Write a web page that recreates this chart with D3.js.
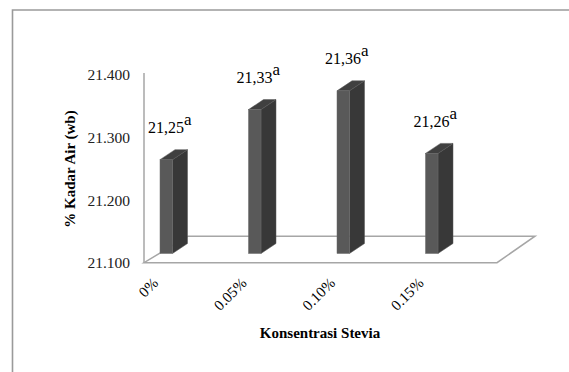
<!DOCTYPE html>
<html>
<head>
<meta charset="utf-8">
<script src="https://cdn.jsdelivr.net/npm/d3@7"></script>
<style>
  html, body { margin: 0; padding: 0; background: #fff; }
  svg { display: block; }
</style>
</head>
<body>
<svg id="chart" width="569" height="372"></svg>
<script>
const categories = ["0%", "0.05%", "0.10%", "0.15%"];
const values = [21.25, 21.33, 21.36, 21.26];
const valueLabels = ["21,25", "21,33", "21,36", "21,26"];
const letters = ["a", "a", "a", "a"];
const yTicks = [21.1, 21.2, 21.3, 21.4];
const yTickLabels = ["21.100", "21.200", "21.300", "21.400"];
const yTitle = "% Kadar Air (wb)";
const xTitle = "Konsentrasi Stevia";

const FONT = "'Liberation Serif', 'Times New Roman', Times, serif";
const svg = d3.select("#chart").attr("font-family", FONT);

// outer frame (extends beyond right/bottom edge)
svg.append("path")
  .attr("d", "M12.5,400 L12.5,10 L600,10")
  .attr("fill", "none").attr("stroke", "#9a9a9a").attr("stroke-width", 1.6);

const y = d3.scaleLinear().domain([21.1, 21.4]).range([262.7, 75]);
const x = d3.scaleBand().domain(categories).range([145, 499]).padding(0);

const gray = "#a6a6a6";
const y0 = y(21.1);
svg.append("polygon")
  .attr("points", [[144, y0], [497, y0], [535, y0 - 26.5], [188, y0 - 26.5]].map(p => p.join(",")).join(" "))
  .attr("fill", "#fff").attr("stroke", gray).attr("stroke-width", 1.5);

svg.append("line")
  .attr("x1", 144).attr("x2", 144)
  .attr("y1", y(21.4) - 2).attr("y2", y0)
  .attr("stroke", gray).attr("stroke-width", 1.5);

svg.append("g").selectAll("text").data(yTicks).join("text")
  .attr("font-family", FONT)
  .attr("x", 130).attr("y", d => y(d)).attr("dy", "0.35em")
  .attr("text-anchor", "end").attr("font-size", 15.5)
  .attr("fill", "#222")
  .text((d, i) => yTickLabels[i]);

const frontW = 12.5, dx = 15, dy = -10, baseShift = 9.2;
const bars = svg.append("g").selectAll("g").data(values).join("g");
bars.each(function (v, i) {
  const g = d3.select(this);
  const xl = x(categories[i]) + 15;
  const xr = xl + frontW;
  const yb = y(21.1) - baseShift;
  const yt = y(v) - baseShift;
  g.append("polygon")
    .attr("points", [[xr, yt], [xr + dx, yt + dy], [xr + dx, yb + dy], [xr, yb]].map(p => p.join(",")).join(" "))
    .attr("fill", "#383838").attr("stroke", "#555").attr("stroke-width", 0.5);
  g.append("polygon")
    .attr("points", [[xl, yt], [xl + dx, yt + dy], [xr + dx, yt + dy], [xr, yt]].map(p => p.join(",")).join(" "))
    .attr("fill", "#404040").attr("stroke", "#555").attr("stroke-width", 0.5);
  g.append("rect")
    .attr("x", xl).attr("y", yt).attr("width", frontW).attr("height", yb - yt)
    .attr("fill", "#595959").attr("stroke", "#6a6a6a").attr("stroke-width", 0.5);
});

const lab = svg.append("g").selectAll("text").data(values).join("text")
  .attr("font-family", FONT)
  .attr("x", (d, i) => x(categories[i]) + 3)
  .attr("y", d => y(d) - 9.2 - 26.5)
  .attr("font-size", 16);
lab.append("tspan").text((d, i) => valueLabels[i]);
lab.append("tspan").attr("dy", -8).attr("font-size", 17).text((d, i) => letters[i]);

svg.append("g").selectAll("text").data(categories).join("text")
  .attr("font-family", FONT)
  .attr("transform", d => `translate(${x(d) + 14},284) rotate(-45)`)
  .attr("text-anchor", "end").attr("font-size", 15)
  .text(d => d);

svg.append("text")
  .attr("font-family", FONT)
  .attr("transform", "translate(75,169) rotate(-90)")
  .attr("text-anchor", "middle").attr("font-size", 15).attr("font-weight", "bold")
  .text(yTitle);
svg.append("text")
  .attr("font-family", FONT)
  .attr("x", 320).attr("y", 338)
  .attr("text-anchor", "middle").attr("font-size", 15).attr("font-weight", "bold")
  .text(xTitle);
</script>
</body>
</html>
